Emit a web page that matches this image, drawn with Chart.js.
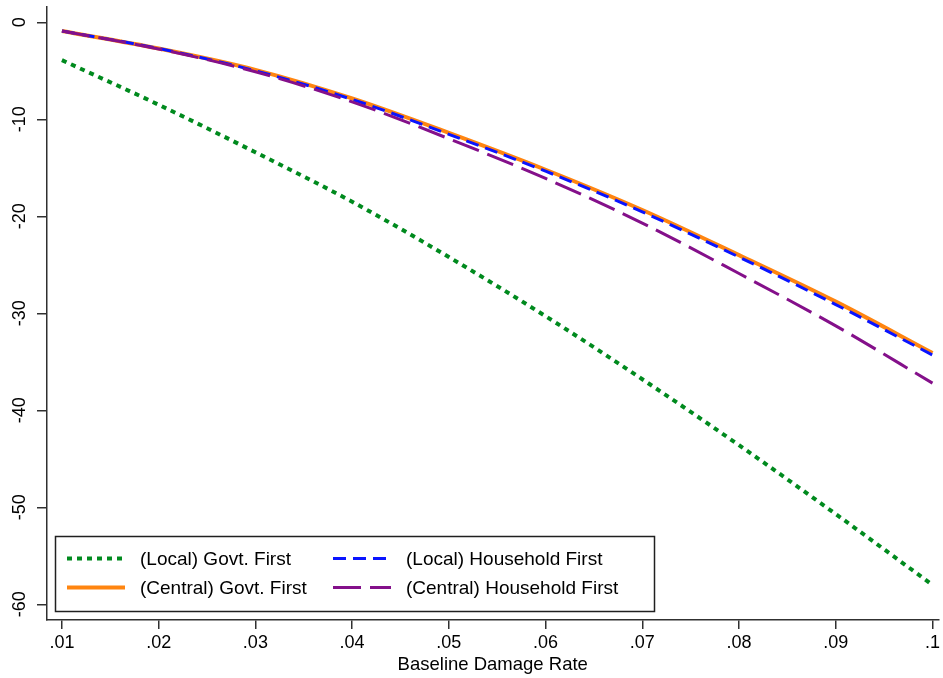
<!DOCTYPE html>
<html>
<head>
<meta charset="utf-8">
<script src="https://cdn.jsdelivr.net/npm/chart.js@4.4.1/dist/chart.umd.min.js"></script>
<style>
  html, body { margin: 0; padding: 0; background: #ffffff; }
  #wrap { width: 943px; height: 678px; position: relative; }
</style>
</head>
<body>
<div id="wrap"><canvas id="c"></canvas></div>
<script>
// ---- data ----
const damageRates = [0.01, 0.02, 0.03, 0.04, 0.05, 0.06, 0.07, 0.08, 0.09, 0.10];
const localGovtFirst        = [-3.9, -8.5, -13.4, -18.5, -24.2, -30.3, -36.8, -43.6, -50.7, -58.0];
const centralGovtFirst      = [-0.9, -2.7, -4.9, -7.85, -11.4, -15.2, -19.35, -24.0, -28.8, -34.1];
const localHouseholdFirst   = [-0.9, -2.7, -5.0, -7.95, -11.55, -15.35, -19.55, -24.2, -29.1, -34.3];
const centralHouseholdFirst = [-0.9, -2.75, -5.1, -8.2, -12.0, -16.1, -20.7, -25.9, -31.3, -37.2];
const seriesLabels = ['(Local) Govt. First', '(Central) Govt. First', '(Local) Household First', '(Central) Household First'];
const xTicks = [0.01, 0.02, 0.03, 0.04, 0.05, 0.06, 0.07, 0.08, 0.09, 0.10];
const xTickLabels = ['.01', '.02', '.03', '.04', '.05', '.06', '.07', '.08', '.09', '.1'];
const yTicks = [0, -10, -20, -30, -40, -50, -60];
const yTickLabels = ['0', '-10', '-20', '-30', '-40', '-50', '-60'];
const xTitle = 'Baseline Damage Rate';

const FONT = '"Liberation Sans", Arial, Helvetica, sans-serif';
const AXIS = '#303030';

function pts(vals) { return damageRates.map((x, i) => ({ x: x, y: vals[i] })); }

const datasets = [
  { label: seriesLabels[0], data: pts(localGovtFirst), borderColor: '#008a1e', borderWidth: 4, borderDash: [5, 5], order: 3 },
  { label: seriesLabels[1], data: pts(centralGovtFirst), borderColor: '#ff8510', borderWidth: 4, borderDash: [], order: 2 },
  { label: seriesLabels[2], data: pts(localHouseholdFirst), borderColor: '#0a14ff', borderWidth: 3, borderDash: [13, 7], order: 1 },
  { label: seriesLabels[3], data: pts(centralHouseholdFirst), borderColor: '#84108a', borderWidth: 3, borderDash: [28, 9], order: 0 }
];
datasets.forEach(d => { d.pointRadius = 0; d.fill = false; d.cubicInterpolationMode = 'monotone'; d.borderCapStyle = 'butt'; });

// legend layout: grid of dataset indices [row][col]
const legendGrid = [[0, 2], [1, 3]];

const yLabelPlugin = {
  id: 'yLabels',
  afterDraw(chart) {
    const ctx = chart.ctx, ys = chart.scales.y;
    ctx.save();
    ctx.fillStyle = '#000';
    ctx.font = '18px ' + FONT;
    ctx.textAlign = 'center';
    ctx.textBaseline = 'middle';
    yTicks.forEach((v, i) => {
      const py = ys.getPixelForValue(v);
      ctx.save();
      ctx.translate(ys.left + 20, py);
      ctx.rotate(-Math.PI / 2);
      ctx.fillText(yTickLabels[i], 0, 0);
      ctx.restore();
    });
    ctx.restore();
  }
};

const legendPlugin = {
  id: 'boxLegend',
  afterDraw(chart) {
    const ctx = chart.ctx, ca = chart.chartArea;
    const bx = ca.left + 8, bw = 599, bh = 75, by = ca.bottom - 9 - bh;
    ctx.save();
    ctx.fillStyle = '#fff';
    ctx.fillRect(bx, by, bw, bh);
    ctx.strokeStyle = '#202020';
    ctx.lineWidth = 1.5;
    ctx.strokeRect(bx + 0.5, by + 0.5, bw, bh);
    const colX = [bx + 12, bx + 278];
    const textOff = 73;
    const rowY = [by + 23.5, by + 52.5];
    ctx.font = '19px ' + FONT;
    ctx.textBaseline = 'middle';
    ctx.textAlign = 'left';
    legendGrid.forEach((row, r) => {
      row.forEach((di, c) => {
        const ds = chart.data.datasets[di];
        ctx.save();
        ctx.strokeStyle = ds.borderColor;
        ctx.lineWidth = ds.borderWidth;
        ctx.setLineDash(ds.borderDash || []);
        ctx.lineCap = 'butt';
        ctx.beginPath();
        ctx.moveTo(colX[c], rowY[r] - 1);
        ctx.lineTo(colX[c] + 58, rowY[r] - 1);
        ctx.stroke();
        ctx.restore();
        ctx.fillStyle = '#000';
        ctx.fillText(ds.label, colX[c] + textOff, rowY[r]);
      });
    });
    ctx.restore();
  }
};

new Chart(document.getElementById('c'), {
  type: 'line',
  data: { datasets: datasets },
  options: {
    responsive: true,
    maintainAspectRatio: false,
    animation: false,
    layout: { padding: { top: 7, right: 0, left: 0, bottom: 0 } },
    plugins: { legend: { display: false }, tooltip: { enabled: false } },
    scales: {
      x: {
        type: 'linear',
        min: 0.008457,
        max: 0.100617,
        afterBuildTicks: s => { s.ticks = xTicks.map(v => ({ value: v })); },
        afterFit: s => { s.height = 58; },
        ticks: {
          autoSkip: false, maxRotation: 0, minRotation: 0, padding: 3,
          color: '#000', font: { family: FONT, size: 18 },
          callback: (v, i) => xTickLabels[i]
        },
        grid: { drawOnChartArea: false, drawTicks: true, tickLength: 9, color: AXIS, lineWidth: 1.5 },
        border: { display: true, color: AXIS, width: 1.5 },
        title: { display: true, text: xTitle, color: '#000', font: { family: FONT, size: 18.5 }, padding: { top: 0, bottom: 2 } }
      },
      y: {
        type: 'linear',
        min: -61.62,
        max: 1.577,
        afterBuildTicks: s => { s.ticks = yTicks.map(v => ({ value: v })); },
        afterFit: s => { s.width = 47; },
        ticks: { display: false },
        grid: { drawOnChartArea: false, drawTicks: true, tickLength: 10, color: AXIS, lineWidth: 1.5 },
        border: { display: true, color: AXIS, width: 1.5 }
      }
    }
  },
  plugins: [yLabelPlugin, legendPlugin]
});
</script>
</body>
</html>
